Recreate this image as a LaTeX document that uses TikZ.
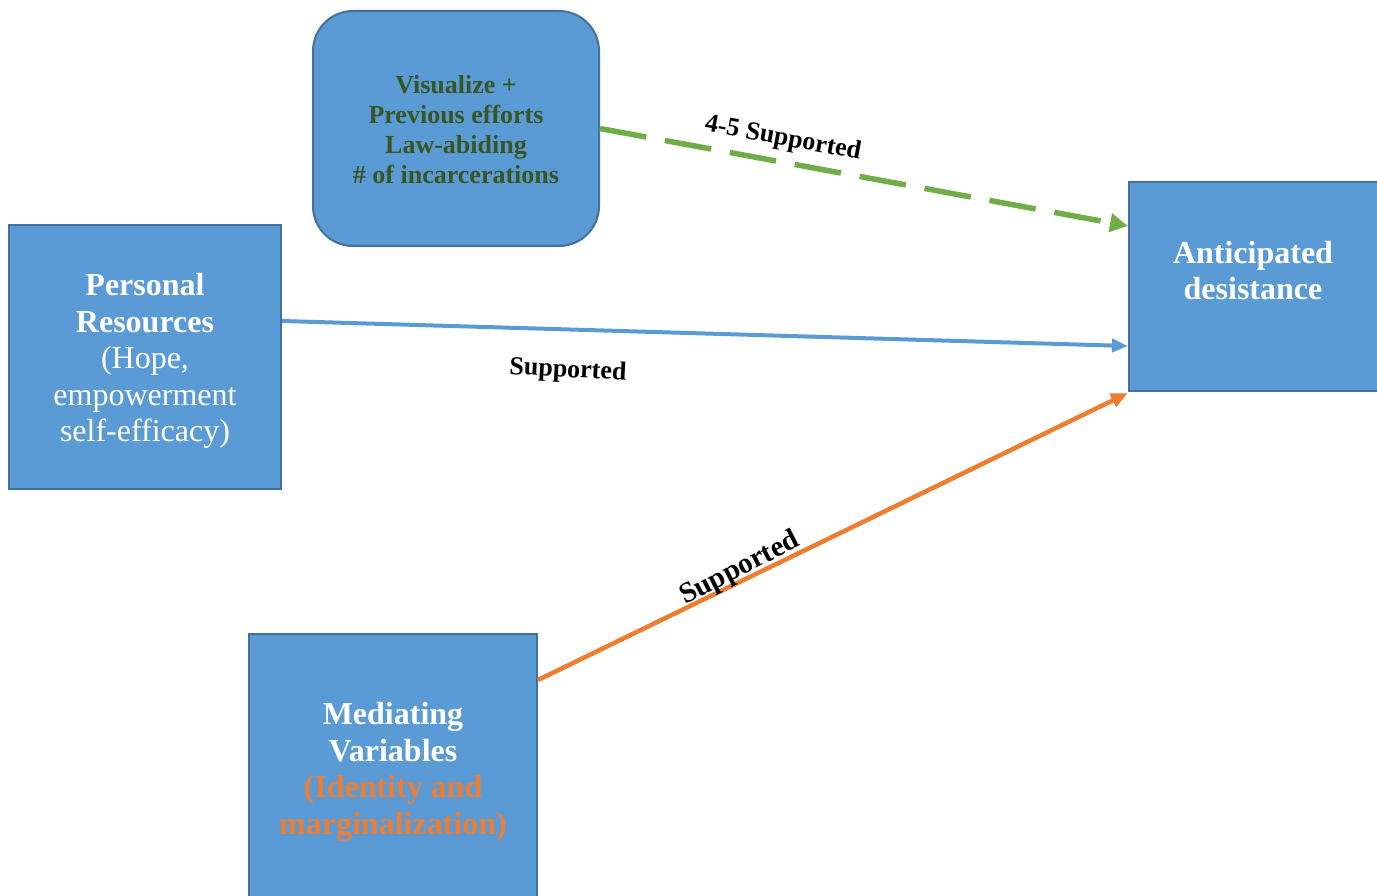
\documentclass[tikz,border=0pt]{standalone}
\usepackage{fontspec}
\setmainfont{Liberation Serif}
\usetikzlibrary{arrows.meta}
\definecolor{boxfill}{HTML}{5B9BD5}
\definecolor{boxline}{HTML}{41719C}
\definecolor{grn}{HTML}{70AD47}
\definecolor{dkgrn}{HTML}{375623}
\definecolor{org}{HTML}{ED7D31}
\tikzset{
  box/.style={draw=boxline, fill=boxfill, line width=2pt, inner sep=0pt},
  bigtxt/.style={align=center, text=white, font=\fontsize{32}{36.5}\selectfont},
  smalltxt/.style={align=center, text=dkgrn, font=\fontsize{26}{30}\selectfont\bfseries},
  lbl/.style={font=\fontsize{26}{30}\selectfont\bfseries, inner sep=0pt},
}
\begin{document}
\begin{tikzpicture}[x=1pt,y=-1pt]
\useasboundingbox (0,0) rectangle (1377,896);
% boxes
\node[box, rounded corners=40pt, minimum width=286pt, minimum height=235pt] (vis) at (456,128.5) {};
\node[box, minimum width=272pt, minimum height=264pt] (pers) at (145,357) {};
\node[box, minimum width=256pt, minimum height=209pt] (ant) at (1257,286.5) {};
\node[box, minimum width=288pt, minimum height=306pt] (med) at (393,787) {};
% texts
\node[smalltxt] (vist) at (456,130) {Visualize +\\Previous efforts\\Law-abiding\\\# of incarcerations};
\node[bigtxt] (perst) at (145,361) {\textbf{Personal}\\\textbf{Resources}\\(Hope,\\empowerment\\self-efficacy)};
\node[bigtxt, font=\fontsize{32}{36.5}\selectfont\bfseries] (antt) at (1253,270.5) {Anticipated\\desistance};
\node[bigtxt, font=\fontsize{32}{36.5}\selectfont\bfseries] (medt) at (393,772) {Mediating\\Variables\\\textcolor{org}{(Identity and}\\\textcolor{org}{marginalization)}};
% connectors
\draw[grn, line width=5.5pt, dash pattern=on 47pt off 19pt, -{Triangle[length=18pt,width=18pt]}] (vis.east) -- ([yshift=60.5pt]ant.west);
\draw[boxfill, line width=4pt, -{Triangle[length=16pt,width=13pt]}] ([yshift=36pt]pers.east) -- ([yshift=-59.5pt]ant.west);
\draw[org, line width=4.5pt, -{Triangle[length=17pt,width=14pt]}] ([yshift=-47pt]med.north east) -- ([yshift=-1pt]ant.south west);
% labels
\node[lbl, rotate=-10.5] (l1) at (783,139) {4-5 Supported};
\node[lbl, rotate=-3] (l2) at (568,371) {Supported};
\node[lbl, rotate=27, font=\fontsize{29}{32}\selectfont\bfseries] (l3) at (740,569) {Supported};
\end{tikzpicture}
\end{document}
